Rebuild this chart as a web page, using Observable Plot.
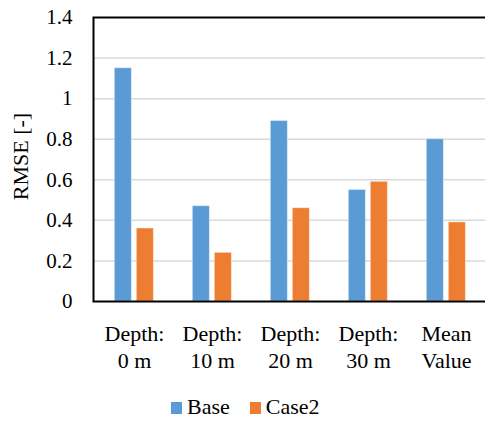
<!DOCTYPE html>
<html>
<head>
<meta charset="utf-8">
<script src="https://cdn.jsdelivr.net/npm/d3@7"></script>
<script src="https://cdn.jsdelivr.net/npm/@observablehq/plot@0.6"></script>
<style>
  body { margin: 0; overflow: hidden; }
</style>
</head>
<body>
<div id="t"></div>
<script>
const FONT = "Liberation Serif";

// Groups along the x axis (two-line labels)
const categories = ["Depth:\n0 m", "Depth:\n10 m", "Depth:\n20 m", "Depth:\n30 m", "Mean\nValue"];
// RMSE per group for each case
const base = [1.15, 0.47, 0.89, 0.55, 0.80];
const case2 = [0.36, 0.24, 0.46, 0.59, 0.39];
// Series names and colours
const seriesNames = ["Base", "Case2"];
const seriesColors = ["#5b9bd5", "#ed7d31"];
// Y axis ticks
const yTicks = [0, 0.2, 0.4, 0.6, 0.8, 1, 1.2, 1.4];

const rows = categories.map((c, i) => ({category: c, Base: base[i], Case2: case2[i]}));

const t = document.getElementById("t");

const chart = Plot.plot({
  width: 490,
  height: 380,
  marginLeft: 93,
  marginRight: 4,
  marginTop: 17,
  marginBottom: 79,
  style: {fontFamily: FONT, fontSize: "21px", color: "#000", maxWidth: "none", display: "block"},
  x: {domain: categories, padding: 0},
  y: {domain: [0, 1.4], ticks: yTicks},
  marks: [
    Plot.gridY(yTicks.filter(v => v > 0 && v < 1.4), {stroke: "#d9d9d9", strokeOpacity: 1, strokeWidth: 1.5}),
    Plot.barY(rows, {x: "category", y: seriesNames[0], fill: seriesColors[0], insetLeft: 19.3, insetRight: 41.6,
      stroke: "#fff", strokeOpacity: 0.45, strokeWidth: 1}),
    Plot.barY(rows, {x: "category", y: seriesNames[1], fill: seriesColors[1], insetLeft: 41.3, insetRight: 19.6,
      stroke: "#fff", strokeOpacity: 0.45, strokeWidth: 1}),
    Plot.frame({stroke: "#000", strokeWidth: 2}),
    Plot.axisY(yTicks, {tickSize: 0, tickPadding: 21, fontSize: 21, label: null, tickFormat: d => String(d)}),
    Plot.axisX({tickSize: 0, tickPadding: 21, fontSize: 22, lineHeight: 1.21, label: null}),
    Plot.text(["RMSE [-]"], {frameAnchor: "left", dx: -73, dy: -3, rotate: -90, fontSize: 22, textAnchor: "middle", fill: "#000"})
  ]
});
t.appendChild(chart);

// Legend below the chart
const legend = document.createElement("div");
legend.style.fontFamily = `"${FONT}"`;
legend.style.fontSize = "22px";
legend.style.lineHeight = "24px";
legend.style.marginTop = "15px";
legend.style.paddingLeft = "171px";
legend.style.whiteSpace = "nowrap";
seriesNames.forEach((name, i) => {
  const sw = document.createElement("span");
  sw.style.display = "inline-block";
  sw.style.width = "11px";
  sw.style.height = "12px";
  sw.style.marginRight = "5px";
  sw.style.marginLeft = i ? "20px" : "0px";
  sw.style.background = seriesColors[i];
  const label = document.createElement("span");
  label.style.fontFamily = `"${FONT}"`;
  label.textContent = name;
  legend.appendChild(sw);
  legend.appendChild(label);
});
t.appendChild(legend);
</script>
</body>
</html>
